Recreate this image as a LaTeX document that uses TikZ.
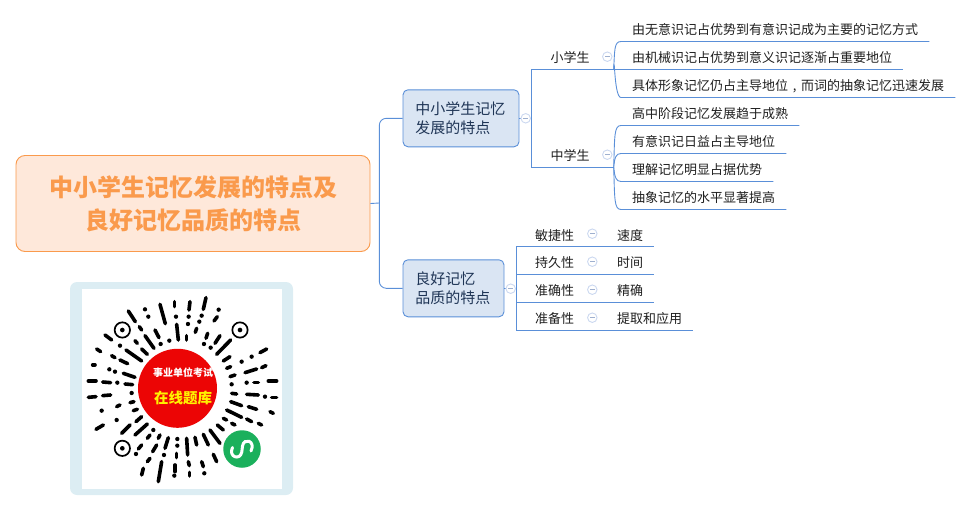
\documentclass[tikz,border=0pt]{standalone}
\usepackage{fontspec}
\setmainfont{Noto Sans CJK SC}
\definecolor{linkblue}{HTML}{5A8FD8}
\definecolor{boxblue}{HTML}{DAE5F3}
\definecolor{inkblue}{HTML}{1F3556}
\definecolor{rootfill}{HTML}{FEE8DA}
\definecolor{rootline}{HTML}{FA9A4C}
\definecolor{togglering}{HTML}{CBD8F0}
\definecolor{togglemark}{HTML}{9FB0CF}
\definecolor{qrframe}{HTML}{DCEDF3}
\definecolor{qrred}{HTML}{EC0505}
\definecolor{qrgreen}{HTML}{1BB05C}

\begin{document}
\begin{tikzpicture}[
		x=1pt, y=-1pt,
		link/.style={linkblue, line width=0.9pt},
		rootbox/.style={draw=rootline, fill=rootfill, line width=0.9pt, rounded corners=9pt, minimum width=354pt, minimum height=96pt, align=center, text=rootline, font=\fontsize{24pt}{33pt}\selectfont\bfseries},
		topicbox/.style={draw=linkblue, fill=boxblue, line width=0.9pt, rounded corners=5pt, minimum height=57pt, inner xsep=12.3pt, align=left, text=inkblue, font=\fontsize{15pt}{19.5pt}\selectfont},
		under/.style={inner ysep=0pt, text height=17.3pt, text depth=6.7pt, font=\fontsize{13pt}{15pt}\selectfont, text=black!88},
		leaf/.style={under, anchor=west, inner xsep=11pt},
		branch/.style={under, anchor=west, align=left},
		toggle/.style={circle, draw=togglering, fill=white, line width=0.9pt, minimum size=9.5pt, inner sep=0pt,
			path picture={\draw[togglemark, line width=0.8pt] ([xshift=2.5pt]path picture bounding box.west) -- ([xshift=-2.5pt]path picture bounding box.east);}},
		qrdash/.style={line width=3.6pt, line cap=round},
	]
	\useasboundingbox (0,0) rectangle (972,511);

	\node[rootbox] (root) at (193,203.5) {中小学生记忆发展的特点及\\良好记忆品质的特点};
	\node[topicbox, text width=91.4pt] (growth) at (461,118.3) {中小学生记忆\\发展的特点};
	\node[topicbox, text width=76.4pt] (quality) at (453.5,288.3) {良好记忆\\品质的特点};

	\node[branch, text width=44pt, inner xsep=19pt] (primary) at (531.3,57.3) {小学生};
	\node[branch, text width=44pt, inner xsep=19pt] (middle) at (531.3,155) {中学生};

	\node[leaf] (pa) at (621,29.3) {由无意识记占优势到有意识记成为主要的记忆方式};
	\node[leaf] (pb) at (621,57.3) {由机械识记占优势到意义识记逐渐占重要地位};
	\node[leaf] (pc) at (621,85.3) {具体形象记忆仍占主导地位\makebox[13pt]{,}而词的抽象记忆迅速发展};
	\node[leaf] (ma) at (621,113.3) {高中阶段记忆发展趋于成熟};
	\node[leaf] (mb) at (621,141.3) {有意识记日益占主导地位};
	\node[leaf] (mc) at (621,169.3) {理解记忆明显占据优势};
	\node[leaf] (md) at (621,197.3) {抽象记忆的水平显著提高};

	\node[branch, text width=52.4pt, inner xsep=18.7pt] (quick) at (516.3,234.7) {敏捷性};
	\node[branch, text width=52.4pt, inner xsep=18.7pt] (lasting) at (516.3,262.5) {持久性};
	\node[branch, text width=52.4pt, inner xsep=18.7pt] (exact) at (516.3,290.3) {准确性};
	\node[branch, text width=52.4pt, inner xsep=18.7pt] (ready) at (516.3,318.3) {准备性};
	\node[leaf] (speed) at (606,234.7) {速度};
	\node[leaf] (span) at (606,262.5) {时间};
	\node[leaf] (precise) at (606,290.3) {精确};
	\node[leaf] (recall) at (606,318.3) {提取和应用};

	\coordinate (hub) at (379.3,203);
	\coordinate (growthbus) at (531.3,118.3);
	\coordinate (qualitybus) at (516.3,288.3);

	\draw[link] (root.east) -- (hub);
	\draw[link, rounded corners=7pt] (growth.west) -| (hub) |- (quality.west);

	\draw[link] (growth.east) -- (growthbus);
	\draw[link] (primary.south east) -- (primary.south west) -- (middle.south west) -- (middle.south east);
	\draw[link] (quality.east) -- (qualitybus);
	\draw[link] (quick.south west) -- (ready.south west);

	\foreach \kid in {pa,pc}
		\draw[link] (primary.south east) .. controls +(1,-19) and +(-7,0) .. (\kid.south west) -- (\kid.south east);
	\draw[link] (primary.south east) -- (pb.south east);
	\draw[link] (middle.south east) .. controls +(1,-31) and +(-7,0) .. (ma.south west) -- (ma.south east);
	\draw[link] (middle.south east) .. controls +(1,-10) and +(-5,0) .. (mb.south west) -- (mb.south east);
	\draw[link] (middle.south east) .. controls +(1,10) and +(-5,0) .. (mc.south west) -- (mc.south east);
	\draw[link] (middle.south east) .. controls +(1,31) and +(-7,0) .. (md.south west) -- (md.south east);

	\foreach \from/\to in {quick/speed,lasting/span,exact/precise,ready/recall}
		\draw[link] (\from.south west) -- (\to.south east);

	\node[toggle] (growthflip) at (525.7,118.3) {};
	\node[toggle] (qualityflip) at (510.7,288.7) {};
	\node[toggle] (primaryflip) at (607.3,56.7) {};
	\node[toggle] (middleflip) at (607.3,154.7) {};
	\node[toggle] (quickflip) at (592.3,233.7) {};
	\node[toggle] (lastingflip) at (592.3,261.7) {};
	\node[toggle] (exactflip) at (592.3,289.7) {};
	\node[toggle] (readyflip) at (592.3,317.7) {};

	\fill[qrframe, rounded corners=7pt] (70,282) rectangle (293,495);
	\fill[white] (82,289) rectangle (282,489);

	\begin{scope}[shift={(60pt,-275pt)}, x=0.3333pt, y=-0.3333pt]
		\foreach \xa/\ya/\xb/\yb in {438/68/430/103, 390/80/387/105, 344/80/344/95, 300/88/316/146, 205/108/226/140,
				472/125/462/138, 238/155/245/165, 350/148/355/195, 410/160/406/172, 443/175/438/190, 380/182/380/195,
				285/165/297/188, 255/182/282/220, 225/197/232/205, 135/180/155/195, 480/182/465/205, 512/195/470/238,
				245/222/262/238, 198/225/245/258, 110/222/122/230, 620/222/600/233, 510/245/490/258, 155/242/165/248,
				180/255/203/266, 98/270/105/270, 512/275/500/280, 618/272/605/278, 590/282/555/293, 190/295/225/307,
				525/300/510/305, 85/318/108/318, 128/321/152/323, 195/327/218/329, 625/318/650/318, 582/322/595/322,
				85/367/108/365, 128/362/152/360, 515/355/530/357, 560/358/595/360, 635/367/650/367, 170/395/180/390,
				210/383/222/380, 512/380/545/392, 565/395/590/403, 220/407/232/403, 500/405/545/427, 630/410/640/415,
				228/440/245/425, 490/430/500/435, 515/445/525/450, 560/432/575/440, 595/445/605/450, 108/463/130/450,
				185/475/210/450, 225/480/262/447, 472/450/490/465, 450/465/480/505, 262/490/270/480, 300/480/295/490,
				430/478/445/510, 405/487/410/510, 380/490/383/540, 325/488/315/520, 290/510/278/530, 245/510/235/522,
				350/535/350/548, 460/538/470/560, 270/550/262/560, 385/560/388/572, 425/560/430/575, 305/560/295/620,
				345/570/345/590, 250/580/245/600, 388/592/388/603}
			\draw[qrdash] (\xa,\ya) -- (\xb,\yb);
		\foreach \xa/\ya in {255/103, 476/104, 425/122, 386/125, 348/125, 265/125, 384/147, 418/140, 328/197, 302/207,
				432/207, 452/218, 180/212, 575/245, 545/260, 148/283, 165/290, 172/323, 560/323, 515/328, 215/354, 615/365,
				125/407, 170/435, 280/465, 352/492, 228/537, 352/512, 312/540, 433/595, 343/602}
			\fill (\xa,\ya) circle (6.5);
		\foreach \xa/\ya in {187/165, 540/165, 187/520} {
			\draw[line width=1.7pt] (\xa,\ya) circle (23);
			\fill (\xa,\ya) circle (7);
		}
	\end{scope}

	\node[circle, fill=qrred, minimum size=79pt, inner sep=0pt] (seal) at (177.5,388.3) {};
	\node[text=white, font=\fontsize{10pt}{12pt}\selectfont\bfseries] (sealtop) at (183,372.5) {事业单位考试};
	\node[text=yellow, font=\fontsize{14.5pt}{16pt}\selectfont\bfseries] (sealbottom) at (183,398) {在线题库};
	\node[circle, fill=qrgreen, minimum size=37.5pt, inner sep=0pt] (badge) at (242,449) {};
	\draw[white, line width=3pt, line cap=round] (232.5,447.5) .. controls (228,457) and (240,461) .. (241.8,452) -- (242.5,446) .. controls (244,437) and (256,441) .. (251,451);
\end{tikzpicture}
\end{document}
